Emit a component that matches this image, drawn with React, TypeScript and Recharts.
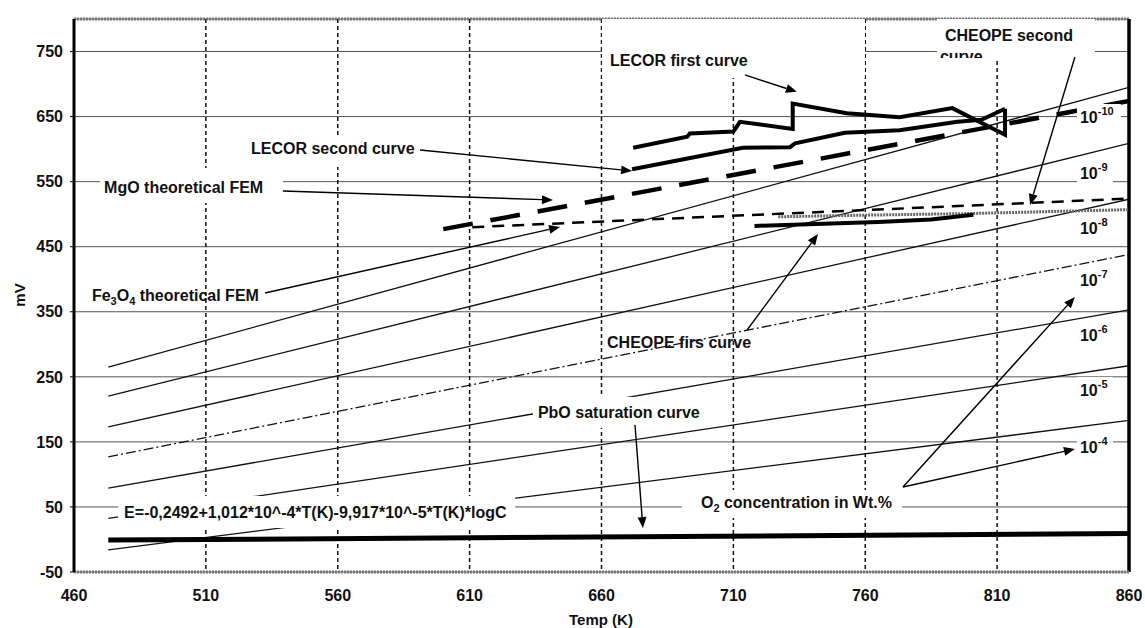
import React from 'react';
import {
  LineChart,
  Line,
  XAxis,
  YAxis,
  CartesianGrid,
  ReferenceLine,
  ReferenceDot,
} from 'recharts';

const FONT = '"Liberation Sans", Arial, Helvetica, sans-serif';

// ---- axes ----
const xTicks = [460, 510, 560, 610, 660, 710, 760, 810, 860];
const yTicks = [-50, 50, 150, 250, 350, 450, 550, 650, 750];

// ---- theoretical FEM lines for O2 concentrations (start / end values, mV) ----
const theoT = [473, 860];
const theo1e4 = [-16, 183];
const theo1e5 = [32.5, 267];
const theo1e6 = [79, 353];
const theo1e7 = [127, 438];
const theo1e8 = [173, 523];
const theo1e9 = [220.5, 609];
const theo1e10 = [265, 695];

// PbO saturation curve
const pboV = [-1, 9];

// MgO / Fe3O4 theoretical FEM
const mgoT = [600, 860];
const mgoV = [477, 674];
const fe3o4T = [611, 860];
const fe3o4V = [480, 524];

// experimental curves [T(K), mV]
const lecorFirst: [number, number][] = [
  [672, 602], [692.5, 619], [693.5, 624], [710, 627], [712.5, 642], [732.5, 631],
  [732.5, 670], [753, 655], [773, 649], [793, 663], [813, 622], [813, 662],
];
const lecorSecond: [number, number][] = [
  [671.6, 569], [713.6, 602], [731.5, 603], [733.4, 609], [752.3, 625], [773, 629],
  [795, 642], [804, 645], [813, 662],
];
const cheopeFirst: [number, number][] = [
  [718, 482], [750, 486], [765, 488], [785, 492], [801, 499],
];
const cheopeSecond: [number, number][] = [
  [727, 496], [760, 498.5], [800, 501], [830, 504], [860, 507],
];

const pairs = (T: number[], V: number[]) => T.map((t, i) => ({ T: t, V: V[i] }));
const pts = (a: [number, number][]) => a.map(([T, V]) => ({ T, V }));

const theoSeries = [
  { key: 'c4', v: theo1e4, dash: undefined as string | undefined },
  { key: 'c5', v: theo1e5, dash: undefined },
  { key: 'c6', v: theo1e6, dash: undefined },
  { key: 'c7', v: theo1e7, dash: '10 3 2 3' },
  { key: 'c8', v: theo1e8, dash: undefined },
  { key: 'c9', v: theo1e9, dash: undefined },
  { key: 'c10', v: theo1e10, dash: undefined },
];

// ---- annotation arrows (data coords) ----
const arrows: [number, number, number, number][] = [
  [714.4, 714, 734.1, 688],
  [591.2, 598.6, 671.6, 566.4],
  [539.2, 535.6, 641.6, 521.8],
  [532.4, 378.9, 644.3, 480.3],
  [715.2, 322, 742.1, 469.5],
  [839.5, 741.6, 822.5, 514.1],
  [672.7, 176, 675.7, 17.6],
  [774.3, 80.7, 839.5, 372.7],
  [774.3, 80.7, 839.5, 139],
];

// concentration labels
const concExp = ['-10', '-9', '-8', '-7', '-6', '-5', '-4'];
const concLabelV = [649.4, 563.3, 478.8, 398.8, 314.3, 229.8, 142.2];
const concLabelT = 841.4;

const ArrowShape = (p: any) => {
  const x1 = Number(p.x1), y1 = Number(p.y1), x2 = Number(p.x2), y2 = Number(p.y2);
  const ang = Math.atan2(y2 - y1, x2 - x1);
  const L = 11, W = 4.5;
  const bx = x2 - L * Math.cos(ang);
  const by = y2 - L * Math.sin(ang);
  const px = -Math.sin(ang) * W;
  const py = Math.cos(ang) * W;
  return (
    <g>
      <line x1={x1} y1={y1} x2={bx} y2={by} stroke="#000" strokeWidth={1.4} />
      <polygon points={`${x2},${y2} ${bx + px},${by + py} ${bx - px},${by - py}`} fill="#000" />
    </g>
  );
};

const textStyle = {
  fontFamily: FONT,
  fontSize: 16,
  fontWeight: 700 as const,
  fill: '#111',
};

const makeLabel = (content: React.ReactNode, box?: [number, number, number, number]) => (p: any) => {
  const cx = Number(p.cx), cy = Number(p.cy);
  return (
    <g>
      {box && <rect x={cx + box[0]} y={cy + box[1]} width={box[2]} height={box[3]} fill="#fff" />}
      <text x={cx} y={cy} dy="0.36em" {...textStyle}>{content}</text>
    </g>
  );
};

const cheopeSecondLabel = (p: any) => {
  const cx = Number(p.cx), cy = Number(p.cy);
  const bx = cx - 8, by = cy - 16, bw = 158, bh = 39;
  return (
    <g>
      <defs>
        <clipPath id="cheope2clip">
          <rect x={bx} y={by} width={bw} height={bh} />
        </clipPath>
      </defs>
      <rect x={bx} y={by} width={bw} height={bh} fill="#fff" />
      <g clipPath="url(#cheope2clip)">
        <text x={cx} y={cy} dy="0.36em" {...textStyle}>CHEOPE second</text>
        <text x={cx - 5} y={cy + 21} dy="0.36em" {...textStyle}>curve</text>
      </g>
    </g>
  );
};

const sub = (s: string) => <tspan dy={4} fontSize={11}>{s}</tspan>;

export default function App() {
  return (
    <div style={{ position: 'absolute', left: 0, top: 0, background: '#fff' }}>
      <LineChart
        width={1145}
        height={628}
        margin={{ top: 19, right: 16, bottom: 0, left: 0 }}
        style={{ fontFamily: FONT, background: '#fff' }}
      >
        <CartesianGrid horizontal vertical={false} stroke="#555" strokeWidth={1} />
        <CartesianGrid horizontal={false} vertical stroke="#111" strokeDasharray="4 3" strokeWidth={1.5} />
        <XAxis
          type="number"
          dataKey="T"
          domain={[460, 860]}
          ticks={xTicks}
          allowDataOverflow
          height={56}
          tickSize={0}
          tickMargin={18}
          tickLine={false}
          axisLine={{ stroke: '#777', strokeWidth: 3, strokeDasharray: '2 1' }}
          tick={{ fill: '#111', fontSize: 16, fontWeight: 700, fontFamily: FONT }}
          label={(props: any) => (
            <text x={601} y={620} textAnchor="middle" dy="0.36em" {...textStyle} fontSize={15}>
              Temp (K)
            </text>
          )}
        />
        <YAxis
          type="number"
          dataKey="V"
          domain={[-50, 800]}
          ticks={yTicks}
          allowDataOverflow
          width={74}
          tickSize={4}
          tickMargin={7}
          tickLine={{ stroke: '#000' }}
          axisLine={{ stroke: '#000', strokeWidth: 3 }}
          tick={{ fill: '#111', fontSize: 16, fontWeight: 700, fontFamily: FONT }}
          label={(props: any) => (
            <text
              x={20}
              y={295}
              textAnchor="middle"
              dy="0.36em"
              transform="rotate(-90 20 295)"
              {...textStyle}
              fontSize={15}
            >
              mV
            </text>
          )}
        />
        <ReferenceLine y={800} stroke="#777" strokeWidth={3} strokeDasharray="2 1" ifOverflow="visible" />
        <ReferenceLine x={860} stroke="#000" strokeWidth={3.5} ifOverflow="visible" />

        {theoSeries.map((s) => (
          <Line
            key={s.key}
            data={pairs(theoT, s.v)}
            dataKey="V"
            type="linear"
            stroke="#111"
            strokeWidth={1.3}
            strokeDasharray={s.dash}
            dot={false}
            isAnimationActive={false}
            legendType="none"
          />
        ))}
        <Line data={pairs(theoT, pboV)} dataKey="V" type="linear" stroke="#000" strokeWidth={5} dot={false} isAnimationActive={false} legendType="none" />
        <Line data={pairs(mgoT, mgoV)} dataKey="V" type="linear" stroke="#000" strokeWidth={4.5} strokeDasharray="30 18" dot={false} isAnimationActive={false} legendType="none" />
        <Line data={pairs(fe3o4T, fe3o4V)} dataKey="V" type="linear" stroke="#000" strokeWidth={2.5} strokeDasharray="12 8" dot={false} isAnimationActive={false} legendType="none" />
        <Line data={pts(cheopeSecond)} dataKey="V" type="linear" stroke="#666" strokeWidth={3} strokeDasharray="2 1" dot={false} isAnimationActive={false} legendType="none" />
        <Line data={pts(cheopeFirst)} dataKey="V" type="linear" stroke="#000" strokeWidth={4} dot={false} isAnimationActive={false} legendType="none" />
        <Line data={pts(lecorSecond)} dataKey="V" type="linear" stroke="#000" strokeWidth={4} dot={false} isAnimationActive={false} legendType="none" />
        <Line data={pts(lecorFirst)} dataKey="V" type="linear" stroke="#000" strokeWidth={4} dot={false} isAnimationActive={false} legendType="none" />

        {/* text boxes */}
        <ReferenceDot x={663.2} y={737} r={1} ifOverflow="visible" zIndex={2500}
          shape={makeLabel('LECOR first curve', [-8, -41, 263, 59])} />
        <ReferenceDot x={527.1} y={601.7} r={1} ifOverflow="visible" zIndex={2500}
          shape={makeLabel('LECOR second curve', [-6, -13, 175, 32])} />
        <ReferenceDot x={471.4} y={541.8} r={1} ifOverflow="visible" zIndex={2500}
          shape={makeLabel('MgO theoretical FEM', [-4, -19, 183, 35])} />
        <ReferenceDot x={466.8} y={375.8} r={1} ifOverflow="visible" zIndex={2500}
          shape={makeLabel(<>Fe{sub('3')}<tspan dy={-4}>O</tspan>{sub('4')}<tspan dy={-4}> theoretical FEM</tspan></>)} />
        <ReferenceDot x={662.1} y={303.5} r={1} ifOverflow="visible" zIndex={2500}
          shape={makeLabel('CHEOPE firs curve')} />
        <ReferenceDot x={790.2} y={775.4} r={1} ifOverflow="visible" zIndex={2500}
          shape={cheopeSecondLabel} />
        <ReferenceDot x={635.9} y={196} r={1} ifOverflow="visible" zIndex={2500}
          shape={makeLabel('PbO saturation curve', [-5, -15, 169, 31])} />
        <ReferenceDot x={479} y={42.2} r={1} ifOverflow="visible" zIndex={2500}
          shape={makeLabel('E=-0,2492+1,012*10^-4*T(K)-9,917*10^-5*T(K)*logC', [-6, -16, 397, 32])} />
        <ReferenceDot x={697.7} y={57.6} r={1} ifOverflow="visible" zIndex={2500}
          shape={makeLabel(<>O{sub('2')}<tspan dy={-4}> concentration in Wt.%</tspan></>, [-19, -12, 220, 28])} />
        {concExp.map((e, i) => (
          <ReferenceDot key={e} x={concLabelT} y={concLabelV[i]} r={1} ifOverflow="visible" zIndex={2500}
            shape={makeLabel(<>10<tspan dy={-8} fontSize={11}>{e}</tspan></>, [-3, -13, e.length > 2 ? 44 : 36, 26])} />
        ))}

        {/* arrows */}
        {arrows.map((a, i) => (
          <ReferenceLine
            key={'arr' + i}
            segment={[{ x: a[0], y: a[1] }, { x: a[2], y: a[3] }]}
            ifOverflow="visible"
            zIndex={2600}
            shape={ArrowShape}
          />
        ))}
      </LineChart>
    </div>
  );
}
